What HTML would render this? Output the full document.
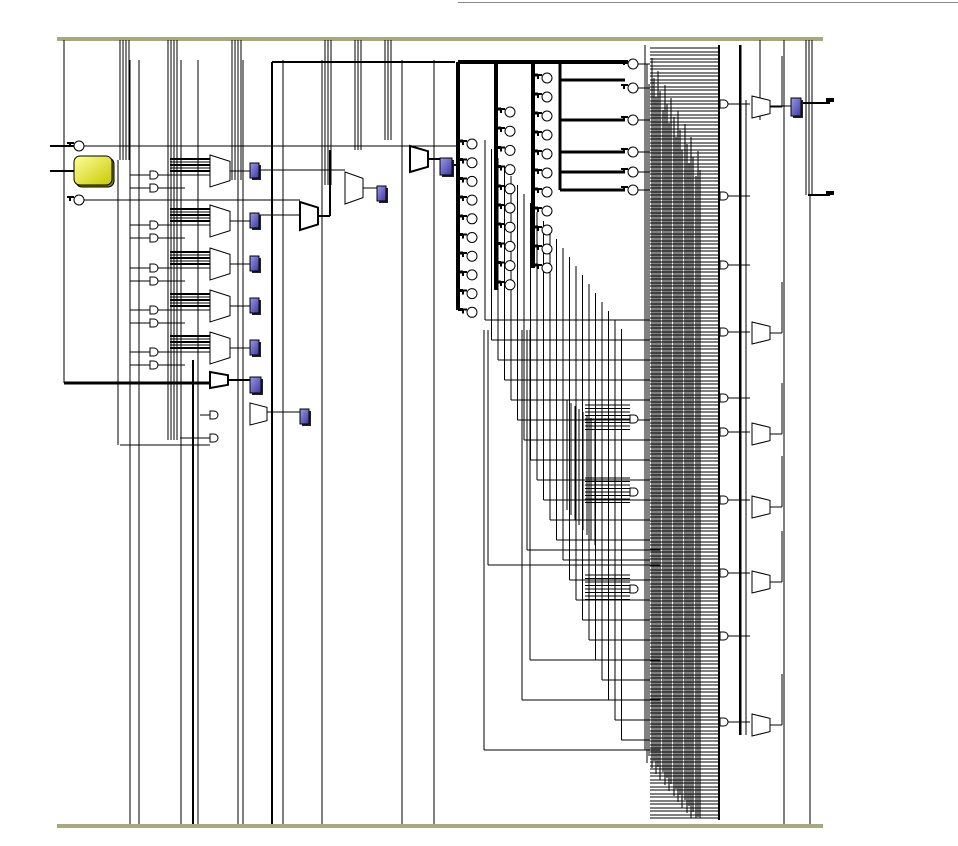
<!DOCTYPE html>
<html><head><meta charset="utf-8"><style>
html,body{margin:0;padding:0;background:#fff;width:958px;height:846px;overflow:hidden}
svg{display:block}
</style></head><body>
<svg id="s" width="958" height="846" viewBox="0 0 958 846" xmlns="http://www.w3.org/2000/svg">
<defs><linearGradient id="reg" x1="0" y1="0" x2="1" y2="1"><stop offset="0" stop-color="#9a9ae8"/><stop offset="1" stop-color="#3a3aa0"/></linearGradient>
<linearGradient id="yel" x1="0" y1="0" x2="1" y2="1"><stop offset="0" stop-color="#ffff9a"/><stop offset="1" stop-color="#c8c800"/></linearGradient></defs>
<line x1="458" y1="2.5" x2="958" y2="2.5" stroke="#888" stroke-width="1"/>
<rect x="57" y="37" width="766" height="4" fill="#a8a880"/>
<rect x="57" y="824" width="766" height="4" fill="#a8a880"/>
<g id="g" stroke="#000" fill="none" stroke-width="1" shape-rendering="crispEdges"></g>
<g id="g2" stroke="#000" fill="none" stroke-width="1"></g>
</svg>
<script>
var h='',h2='';
function L(x1,y1,x2,y2,w){h+='<line x1="'+x1+'" y1="'+y1+'" x2="'+x2+'" y2="'+y2+'"'+(w?' stroke-width="'+w+'"':'')+'/>';}
function P(d,w,f){h2+='<path d="'+d+'"'+(w?' stroke-width="'+w+'"':'')+(f?' fill="'+f+'"':'')+'/>';}
function C(x,y){h2+='<circle cx="'+x+'" cy="'+y+'" r="5" fill="#fff"/>';L(x-12,y-3,x-5,y-3,2);L(x-9,y-3,x-9,y+1,2);}
function R(x,y,w,hh){h2+='<rect x="'+(x+2)+'" y="'+(y+2)+'" width="'+w+'" height="'+hh+'" fill="#222" stroke="none"/><rect x="'+x+'" y="'+y+'" width="'+w+'" height="'+hh+'" fill="url(#reg)" stroke="#000"/>';}
function M(x,y,w,hh,sw){P('M'+x+' '+y+'L'+(x+w)+' '+(y+hh*0.2)+'L'+(x+w)+' '+(y+hh*0.8)+'L'+x+' '+(y+hh)+'Z',sw||1,'#fff');}
function G(x,y){P('M'+x+' '+(y-4)+'h4a4 4 0 0 1 0 8h-4Z',1,'#fff');}
[130,139,181,198,238,243,283,322,402,434].forEach(function(x){L(x,60,x,824);});
L(193,360,193,824,2);L(272,62,272,824,2);
L(64,40,64,383);L(64,383,210,383,3);
for(var i=0;i<4;i++){L(120+i*3,40,120+i*3,160);L(168+i*3,40,168+i*3,440);L(232+i*3,40,232+i*3,180);}
for(var i=0;i<3;i++){L(325+i*3,40,325+i*3,185);L(355+i*3,40,355+i*3,150);L(385+i*3,40,385+i*3,140);}
L(272,62,455,62,2);
h2+='<rect x="76" y="158" width="38" height="29" rx="6" fill="#808000"/><rect x="74" y="156" width="38" height="29" rx="6" fill="url(#yel)" stroke="#000"/>';
C(79,146);C(79,200);L(50,146,74,146,2);L(50,171,74,171,2);L(84,146,460,146);L(84,200,300,200);
var ys=[155,205,248,290,332];
ys.forEach(function(y){M(210,y,20,32);R(250,y+8,9,15);L(230,y+16,250,y+16);
 for(var k=0;k<5;k++)L(170,y+4+k*3,210,y+4+k*3,k%2?1:2);
 G(150,y+20);G(150,y+33);L(130,y+20,150,y+20);L(130,y+33,150,y+33);L(158,y+20,210,y+20);L(158,y+33,185,y+33);});
M(210,372,18,16,2);R(250,377,11,16);L(228,380,250,380,2);
M(250,403,17,22);R(300,409,9,15);L(267,412,300,412);G(210,415);G(210,438);L(180,438,210,438);L(200,415,210,415);
L(120,445,210,445);L(118,160,118,445);
M(300,202,18,28,2);M(345,172,18,32);R(377,186,9,15);M(410,146,18,26,2);R(440,158,12,17);
L(259,170,345,170);L(259,215,300,215);L(318,216,330,216,2);L(330,216,330,150,2);L(363,188,377,188);
L(428,159,440,159,2);L(452,165,458,165,2);
L(458,62,628,62,4);L(458,62,458,310,4);L(496,62,496,290,4);L(533,62,533,268,4);L(560,62,560,190,3);
[80,120,152,172,190].forEach(function(y){L(560,y,625,y,3);});
for(var i=0;i<10;i++){C(472,144+i*18.7);L(458,141+i*18.7,463,141+i*18.7,3);}
for(var i=0;i<10;i++){C(510,112+i*19.2);L(496,109+i*19.2,501,109+i*19.2,3);}
for(var i=0;i<11;i++){C(547,78+i*19);L(533,75+i*19,538,75+i*19,3);}
[64,88,120,152,172,190].forEach(function(y){C(633,y);L(638,y,650,y);});
for(var i=0;i<22;i++){var x=485+i*6.5,y=140+i*9;L(x,y,x,320+i*20);L(x,320+i*20,650,320+i*20);}
for(var i=0;i<8;i++){var x=567+i*4;L(x,400+i*3,x,510+i*5);}
[[484,750],[488,565],[527,550],[522,700],[530,660]].forEach(function(p){L(p[0],330,p[0],p[1]);L(p[0],p[1],660,p[1]);});
for(var b=0;b<3;b++){var yy=[405,478,575][b];for(var k=0;k<8;k++){L(585,yy+k*3.5,630,yy+k*3.5);}G(630,yy+14);}
for(var i=0;i<26;i++){var x=Math.round(645+i*2.2);var t=i/25;L(x,Math.round(45+t*110+(i%3)*15),x,Math.min(818,Math.round(820-(1-t)*70+(i%2)*10)));}
for(var y=48;y<820;y+=3.5){L(650,Math.round(y),720,Math.round(y));}
L(719,45,719,820,2);
[104,196,265,332,398,432,500,573,636,722].forEach(function(y){G(720,y);L(728,y,750,y);});
L(740,45,740,735,2.5);L(746,100,746,735);
[[752,96],[752,322],[752,423],[752,496],[752,571],[752,714]].forEach(function(p){M(p[0],p[1],18,22);L(770,p[1]+11,782,p[1]+11);L(782,p[1]+11,782,p[1]-40);});
R(791,98,10,18);L(770,106,791,106);L(801,103,830,103,2);
for(var i=0;i<3;i++)L(806+i*3,40,806+i*3,195);
L(808,195,830,195,2);
L(784,40,784,824);L(810,195,810,824);L(760,40,760,120);
L(826,100,834,100,4);L(826,193,834,193,4);
document.getElementById('g').innerHTML=h;document.getElementById('g2').innerHTML=h2;
</script>
</body></html>
